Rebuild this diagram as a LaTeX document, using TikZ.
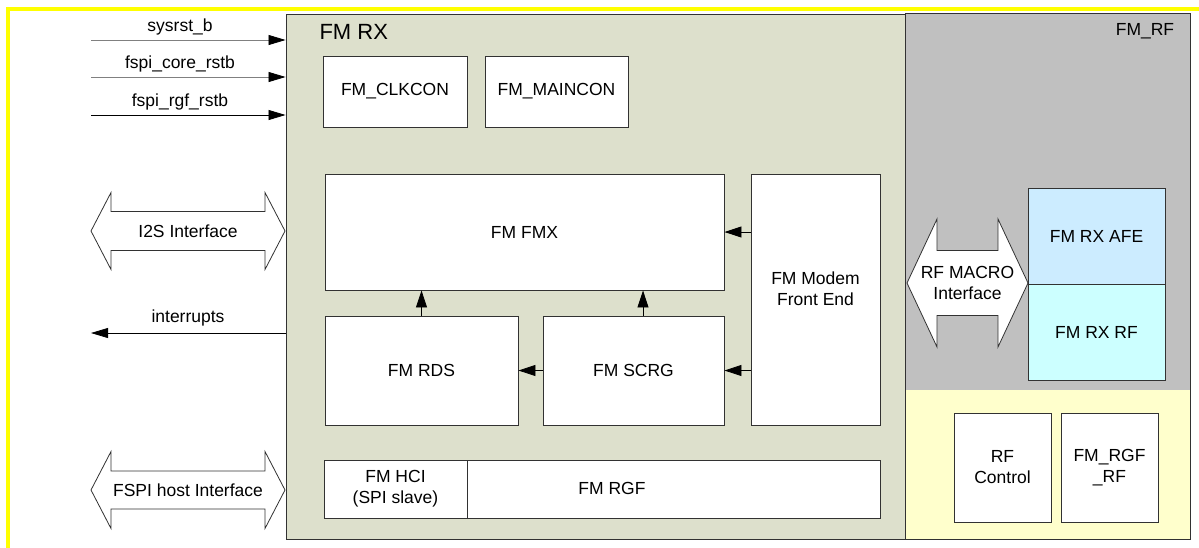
\documentclass[tikz,border=0pt]{standalone}
\usepackage{fontspec}
\setmainfont{Liberation Sans}
\usepackage{tikz}
\usetikzlibrary{arrows.meta, positioning}
\definecolor{rxgreen}{RGB}{221,224,204}
\definecolor{rfgray}{RGB}{192,192,192}
\definecolor{rfyellow}{RGB}{255,255,204}
\definecolor{afeblue}{RGB}{204,236,255}
\definecolor{rfcyan}{RGB}{204,255,255}
\definecolor{frameyellow}{RGB}{255,255,0}
\definecolor{edgegray}{RGB}{50,50,50}

% double headed interface arrow: name, x left, x right, y mid,
% half shaft, half head, head length, text
\newcommand{\ifarrow}[8]{%
  \draw[edgegray, fill=white, line width=0.8pt]
    (#2,#4) -- (#2+#7,#4-#6) -- (#2+#7,#4-#5) -- (#3-#7,#4-#5)
    -- (#3-#7,#4-#6) -- (#3,#4) -- (#3-#7,#4+#6) -- (#3-#7,#4+#5)
    -- (#2+#7,#4+#5) -- (#2+#7,#4+#6) -- cycle;
  \node[align=center] (#1) at ({(#2+#3)/2},#4) {#8};
}

\begin{document}
\begin{tikzpicture}[x=1pt, y=-1pt,
    font=\fontsize{17.5}{21}\selectfont,
    blk/.style={draw=edgegray, line width=0.9pt, fill=white, inner sep=0pt,
                align=center},
    region/.style={inner sep=0pt},
    blkarrow/.style={-{Triangle[length=17pt, width=11pt]}, line width=0.8pt},
    sigarrow/.style={-{Triangle[length=17pt, width=10pt, color=black]}, line width=0.8pt}]
  \useasboundingbox (0,0) rectangle (1199,547);

  % outer frame
  \draw[frameyellow, line width=4pt] (8,549) -- (8,8.5) -- (1201,8.5);

  % FM RX block
  \node[region, draw=edgegray, line width=0.9pt, fill=rxgreen,
        minimum width=620, minimum height=525] (fmrx) at (596,276.5) {};
  \node[anchor=west, font=\fontsize{22}{26}\selectfont] (rxlbl) at (316,32) {FM RX};

  % FM_RF block
  \node[region, fill=rfgray, minimum width=284, minimum height=376] (rfmac) at (1048,202) {};
  \node[region, fill=rfyellow, minimum width=284, minimum height=149] (rfdig) at (1048,464.5) {};
  \draw[edgegray, line width=0.9pt] (rfmac.north west) rectangle (rfdig.south east);
  \node (rflbl) at (1145,31) {FM\_RF};

  % control blocks
  \node[blk, minimum width=144, minimum height=71] (clkcon) at (395,91.5) {FM\_CLKCON};
  \node[blk, minimum width=143, minimum height=71] (maincon) at (556.5,91.5) {FM\_MAINCON};

  % datapath
  \node[blk, minimum width=399, minimum height=116] (fmx) at (524.5,232) {FM FMX};
  \node[blk, minimum width=129, minimum height=251] (modem) at (815.5,299.5) {};
  \node[align=center] (modemlbl) at ([yshift=11pt]modem.center) {FM Modem\\Front End};
  \node[blk, minimum width=193, minimum height=109] (rds) at (421.5,370.5) {FM RDS};
  \node[blk, minimum width=181, minimum height=109] (scrg) at (633.5,370.5) {FM SCRG};

  \draw[blkarrow] (modem.west |- fmx) -- (fmx.east);
  \draw[blkarrow] (modem.west |- scrg) -- (scrg.east);
  \draw[blkarrow] (scrg.west) -- (rds.east);
  \draw[blkarrow] (rds.north) -- (rds.north |- fmx.south);
  \draw[blkarrow] ([xshift=9.5pt]scrg.north) -- ([xshift=9.5pt]scrg.north |- fmx.south);

  % register bus
  \node[blk, minimum width=556, minimum height=58] (rgf) at (602,489) {};
  \node (rgflbl) at (612,488) {FM RGF};
  \node[blk, minimum width=143, minimum height=58] (hci) at (395.5,489) {FM HCI\\(SPI slave)};

  % RF macro
  \node[blk, fill=afeblue, minimum width=137, minimum height=96] (afe) at (1096.5,236) {FM RX AFE};
  \node[blk, fill=rfcyan, minimum width=137, minimum height=96] (rxrf) at (1096.5,332) {FM RX RF};
  \node[blk, minimum width=97, minimum height=109] (rfctl) at (1002.5,467.5) {RF\\Control};
  \node[blk, minimum width=97, minimum height=109] (rgfrf) at (1109.5,467.5) {FM\_RGF\\\_RF};

  % reset inputs
  \foreach \i/\y/\lbl/\col in {1/40/sysrst\_b/gray, 2/77/fspi\_core\_rstb/gray,
                               3/115/fspi\_rgf\_rstb/black} {
    \coordinate (rst\i) at (91,\y);
    \draw[sigarrow, \col] (rst\i) -- (rst\i -| fmrx.west);
    \node (rstlbl\i) at (180,\y-13) {\lbl};
  }

  % interrupts out
  \coordinate (irq) at (91,333);
  \draw[sigarrow] (irq -| fmrx.west) -- (irq);
  \node (irqlbl) at (188,318) {interrupts};

  % interfaces
  \ifarrow{i2s}{91}{285}{231}{19.5}{38.5}{20}{I2S Interface}
  \ifarrow{fspi}{91}{285}{490}{19}{38.5}{20}{FSPI host Interface}
  \ifarrow{rfif}{907}{1028}{283}{32.5}{64}{30}{RF MACRO\\Interface}
\end{tikzpicture}
\end{document}
